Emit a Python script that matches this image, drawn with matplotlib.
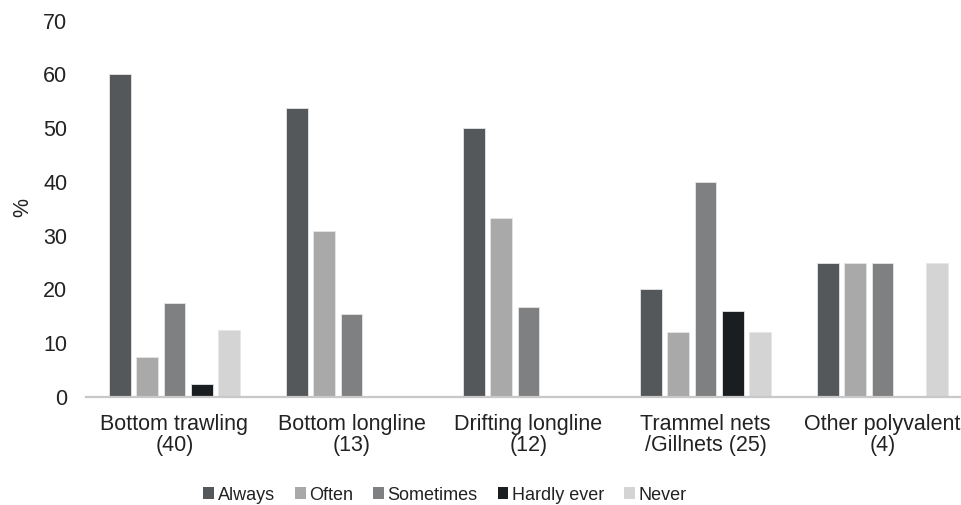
import matplotlib
matplotlib.use("agg")
import numpy as np
import matplotlib.pyplot as plt
from matplotlib.patches import Patch

# Share of respondents per answer, by fishing gear (n in brackets)
gears = ["Bottom trawling\n(40)", "Bottom longline\n(13)", "Drifting longline\n(12)",
         "Trammel nets\n/Gillnets (25)", "Other polyvalent\n(4)"]
answers = ["Always", "Often", "Sometimes", "Hardly ever", "Never"]
always = [60.0, 53.8, 50.0, 20.0, 25.0]
often = [7.5, 30.8, 33.3, 12.0, 25.0]
sometimes = [17.5, 15.4, 16.7, 40.0, 25.0]
hardly_ever = [2.5, 0.0, 0.0, 16.0, 0.0]
never = [12.5, 0.0, 0.0, 12.0, 25.0]

series = [always, often, sometimes, hardly_ever, never]
colors = ["#55585b", "#a8a9a8", "#7f8081", "#1b1e20", "#d3d4d3"]

plt.rcParams["font.family"] = ["Liberation Sans", "DejaVu Sans"]

W, H = 961, 505
fig = plt.figure(figsize=(W / 100, H / 100), dpi=100)
# plot area runs a little past the right edge of the figure
ax = fig.add_axes([86 / W, 108 / H, (971 - 86) / W, (484.5 - 108) / H])

x = np.arange(len(gears))
pitch = 0.154
width = 0.122
for i, (vals, col) in enumerate(zip(series, colors)):
    ax.bar(x + (i - 2) * pitch, vals, width, color=col,
           edgecolor="#e6e6e6", linewidth=0.6, zorder=2)

ax.set_xlim(-0.5, len(gears) - 0.5)
ax.set_ylim(0, 70)
ax.set_yticks(range(0, 71, 10))
ax.set_xticks(x)
ax.set_xticklabels(gears, fontsize=15.5, color="#222222", linespacing=1.0)
ax.tick_params(axis="y", length=0, pad=13.5, labelsize=15.5, labelcolor="#222222")
ax.tick_params(axis="x", length=0, pad=12.5)

for s in ["top", "right", "left"]:
    ax.spines[s].set_visible(False)
ax.spines["bottom"].set_color("#c8c8c8")
ax.spines["bottom"].set_linewidth(1.6)

fig.text(23 / W, 1 - 208 / H, "%", rotation=90, fontsize=15.5,
         color="#222222", ha="center", va="center")

handles = [Patch(facecolor=c, edgecolor="none") for c in colors]
fig.legend(handles, answers, loc="center", bbox_to_anchor=(445 / W, 10 / H),
           ncol=5, frameon=False, fontsize=13, handlelength=0.6, handleheight=0.6,
           handletextpad=0.2, columnspacing=1.1, labelcolor="#222222")

fig.savefig("out.png", dpi=100)
